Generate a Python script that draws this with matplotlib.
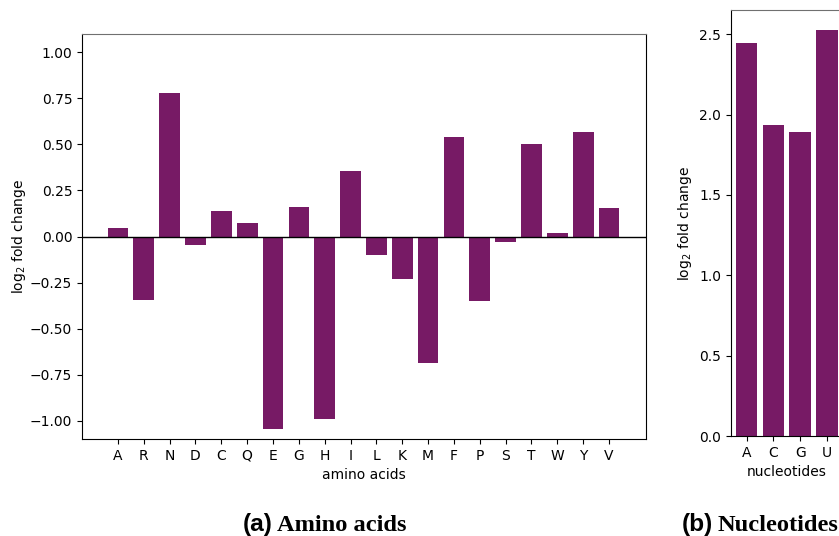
import matplotlib
matplotlib.use("Agg")
import matplotlib.pyplot as plt

amino_acids = ["A", "R", "N", "D", "C", "Q", "E", "G", "H", "I",
               "L", "K", "M", "F", "P", "S", "T", "W", "Y", "V"]
amino_values = [0.045, -0.345, 0.78, -0.045, 0.139, 0.076, -1.043, 0.161, -0.989, 0.356,
                -0.098, -0.233, -0.689, 0.541, -0.349, -0.032, 0.503, 0.02, 0.568, 0.156]

nucleotides = ["A", "C", "G", "U"]
nucleotide_values = [2.444, 1.933, 1.890, 2.525]

bar_color = "#771a65"

fig = plt.figure(figsize=(8.39, 5.36), dpi=100)

W, H = 839.0, 536.0
# left axes: x 82..646, y 34..439
ax1 = fig.add_axes([82 / W, 1 - 439 / H, (646 - 82) / W, (439 - 34) / H])
x1 = list(range(len(amino_acids)))
ax1.bar(x1, amino_values, width=0.8, color=bar_color)
ax1.axhline(0, color="black", linewidth=1.0)
ax1.set_xticks(x1)
ax1.set_xticklabels(amino_acids)
ax1.set_xlim(-1.39, 20.43)
ax1.set_ylim(-1.1, 1.1)
ax1.set_yticks([-1.0, -0.75, -0.5, -0.25, 0.0, 0.25, 0.5, 0.75, 1.0])
ax1.set_xlabel("amino acids")
ax1.set_ylabel("log$_2$ fold change", labelpad=1.5)
ax1.spines["top"].set_color("#707070")

# right axes: x 731.., y 10..436
ax2 = fig.add_axes([731 / W, 1 - 436 / H, 111.6 / W, (436 - 10) / H])
x2 = list(range(len(nucleotides)))
ax2.bar(x2, nucleotide_values, width=0.8, color=bar_color)
ax2.set_xticks(x2)
ax2.set_xticklabels(nucleotides)
ax2.set_xlabel("nucleotides")
ax2.set_ylabel("log$_2$ fold change")
ax2.spines["top"].set_color("#707070")

# captions
cap_size = 17.6
ya = 1 - 531 / H
r = fig.canvas.get_renderer()

def caption(x0, label, title):
    t = fig.text(x0 / W, ya, label, fontsize=cap_size, fontweight="bold",
                 family="Liberation Sans", ha="left", va="baseline")
    fig.canvas.draw()
    bb = t.get_window_extent(r)
    fig.text((bb.x1 + 4) / W, ya, title, fontsize=cap_size, fontweight="bold",
             family="Liberation Serif", ha="left", va="baseline")

caption(243, "(a)", "Amino acids")
caption(682, "(b)", "Nucleotides")

fig.savefig("out.png", dpi=100)
